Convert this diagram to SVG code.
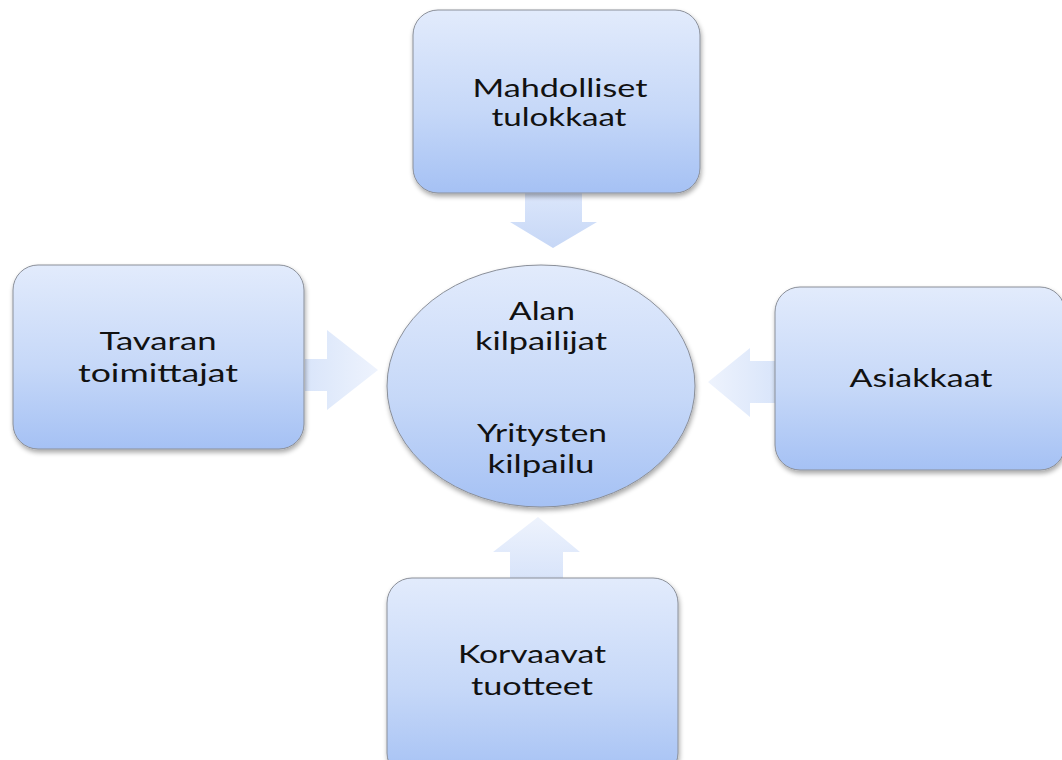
<svg xmlns="http://www.w3.org/2000/svg" width="1062" height="760" viewBox="0 0 1062 760">
  <defs>
    <linearGradient id="boxFill" x1="0" y1="0" x2="0" y2="1">
      <stop offset="0" stop-color="#e2ebfc"/>
      <stop offset="0.55" stop-color="#c6d8f8"/>
      <stop offset="1" stop-color="#a5c1f4"/>
    </linearGradient>
    <linearGradient id="arrowDown" x1="0" y1="0" x2="0" y2="1">
      <stop offset="0" stop-color="#dbe6fb"/>
      <stop offset="1" stop-color="#c6d7f6"/>
    </linearGradient>
    <linearGradient id="arrowUp" x1="0" y1="1" x2="0" y2="0">
      <stop offset="0" stop-color="#d8e4fa"/>
      <stop offset="1" stop-color="#eef3fd"/>
    </linearGradient>
    <linearGradient id="arrowRight" x1="0" y1="0" x2="1" y2="0">
      <stop offset="0" stop-color="#d9e5fa"/>
      <stop offset="1" stop-color="#eef3fd"/>
    </linearGradient>
    <linearGradient id="arrowLeft" x1="1" y1="0" x2="0" y2="0">
      <stop offset="0" stop-color="#d9e5fa"/>
      <stop offset="1" stop-color="#eef3fd"/>
    </linearGradient>
    <filter id="shadow" x="-10%" y="-10%" width="120%" height="125%">
      <feGaussianBlur in="SourceAlpha" stdDeviation="2.5"/>
      <feOffset dx="1" dy="3" result="b"/>
      <feComponentTransfer><feFuncA type="linear" slope="0.35"/></feComponentTransfer>
      <feMerge><feMergeNode/><feMergeNode in="SourceGraphic"/></feMerge>
    </filter>
  </defs>
  <style>
    .box { fill: url(#boxFill); stroke: #8a8f99; stroke-width: 1; filter: url(#shadow); }
    .label { font-family: Lato, "Open Sans", "Liberation Sans", sans-serif; font-size: 25.5px; fill: #111111; text-anchor: middle; }
  </style>

  <rect width="1062" height="760" fill="#ffffff"/>

  <!-- block arrows pointing at the centre -->
  <g id="connectors">
    <polygon points="525,193 582,193 582,222 597,222 553,248 510,222 525,222" fill="url(#arrowDown)"/>
    <polygon points="305,359 327,359 327,330 378,370 327,410 327,391 305,391" fill="url(#arrowRight)"/>
    <polygon points="775,361 750,361 750,348 708,382 750,417 750,403 775,403" fill="url(#arrowLeft)"/>
    <polygon points="510,578 510,552 493,552 538,517 580,552 563,552 563,578" fill="url(#arrowUp)"/>
  </g>

  <g id="node-entrants">
    <rect class="box" x="413" y="10" width="287" height="183" rx="25"/>
    <text class="label" x="560" y="97" textLength="175" lengthAdjust="spacingAndGlyphs">Mahdolliset</text>
    <text class="label" x="559" y="126" textLength="135" lengthAdjust="spacingAndGlyphs">tulokkaat</text>
  </g>

  <g id="node-suppliers">
    <rect class="box" x="13" y="265" width="291" height="184" rx="25"/>
    <text class="label" x="158" y="350" textLength="117" lengthAdjust="spacingAndGlyphs">Tavaran</text>
    <text class="label" x="158" y="382" textLength="160" lengthAdjust="spacingAndGlyphs">toimittajat</text>
  </g>

  <g id="node-customers">
    <rect class="box" x="775" y="287" width="290" height="183" rx="25"/>
    <text class="label" x="921" y="387" textLength="143" lengthAdjust="spacingAndGlyphs">Asiakkaat</text>
  </g>

  <g id="node-substitutes">
    <rect class="box" x="387" y="578" width="291" height="200" rx="25"/>
    <text class="label" x="532" y="663" textLength="148" lengthAdjust="spacingAndGlyphs">Korvaavat</text>
    <text class="label" x="532" y="695" textLength="122" lengthAdjust="spacingAndGlyphs">tuotteet</text>
  </g>

  <g id="node-rivalry">
    <ellipse class="box" cx="541" cy="386" rx="154" ry="121"/>
    <text class="label" x="542" y="320" textLength="66" lengthAdjust="spacingAndGlyphs">Alan</text>
    <text class="label" x="541" y="350" textLength="132" lengthAdjust="spacingAndGlyphs">kilpailijat</text>
    <text class="label" x="542" y="442" textLength="130" lengthAdjust="spacingAndGlyphs">Yritysten</text>
    <text class="label" x="541" y="473" textLength="107" lengthAdjust="spacingAndGlyphs">kilpailu</text>
  </g>
</svg>
